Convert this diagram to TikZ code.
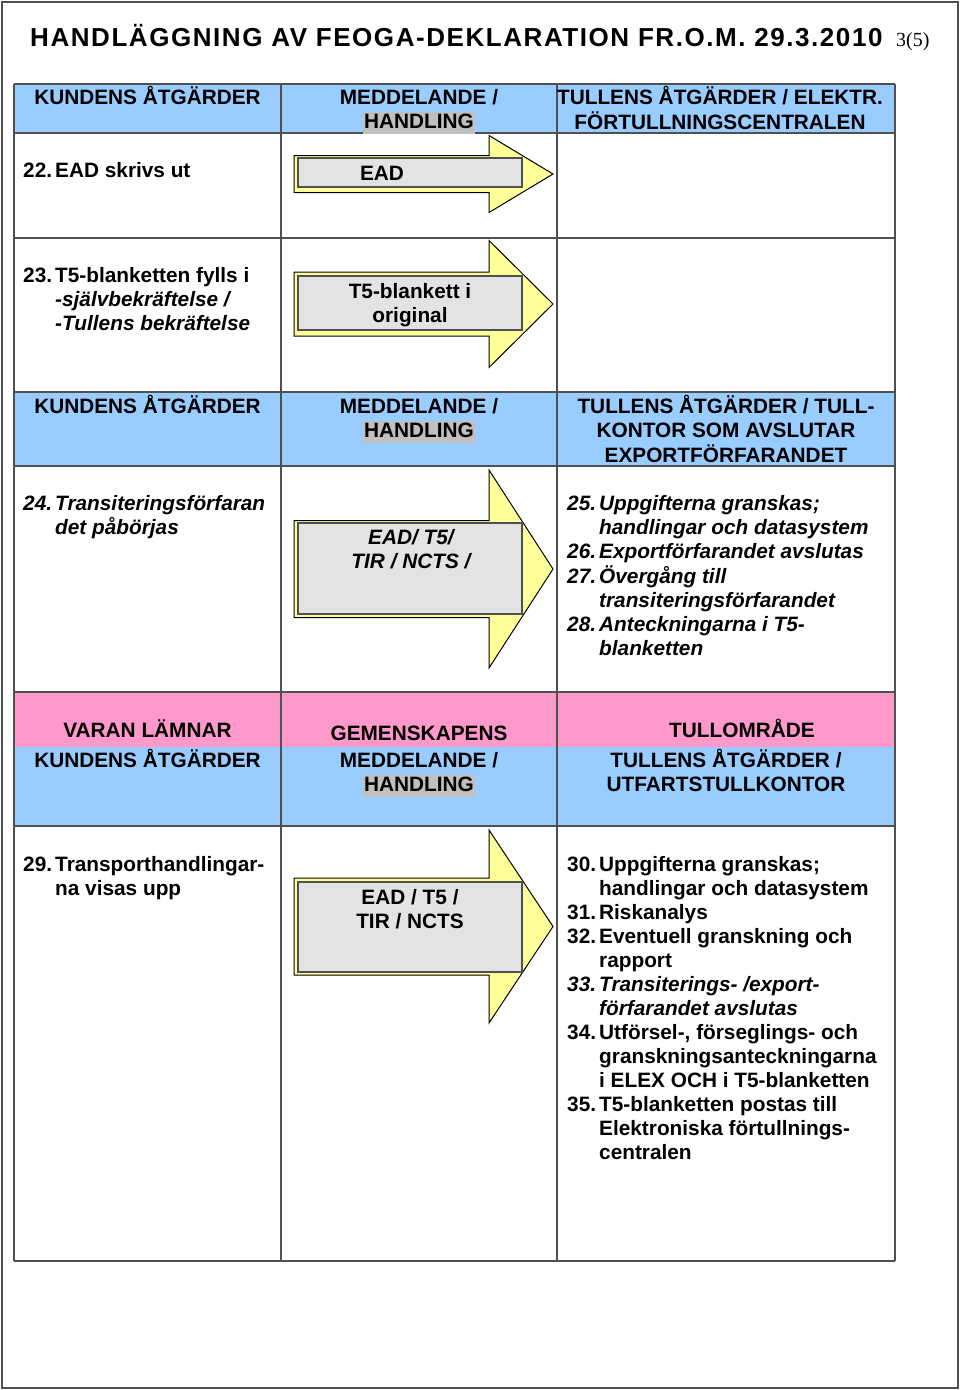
\documentclass[tikz,border=0pt]{standalone}
\usepackage{fontspec}
\setmainfont{Liberation Sans}
\newfontfamily\pagenofont{Liberation Serif}
\newfontfamily\titlefont[LetterSpace=6]{Liberation Sans}
\usetikzlibrary{positioning,calc}
\definecolor{hdrblue}{HTML}{99CCFF}
\definecolor{hdrpink}{HTML}{FF99CC}
\definecolor{arrowyel}{HTML}{FFFF99}
\definecolor{docgrey}{HTML}{E3E3E3}
\definecolor{hlgrey}{HTML}{C0C0C0}
\definecolor{gridline}{HTML}{505050}
\newcommand{\nr}[1]{\makebox[32pt][l]{#1}}
\newcommand{\greyhl}[1]{{\setlength{\fboxsep}{1pt}\colorbox{hlgrey}{\rule[-4pt]{0pt}{20pt}#1}}}
% centre, half shaft, half head
\newcommand{\fwdarrow}[3]{%
  \draw[arrowbody] (294,#1-#2) -- (489,#1-#2) -- (489,#1-#3) -- (553,#1)
    -- (489,#1+#3) -- (489,#1+#2) -- (294,#1+#2) -- cycle;}

\begin{document}
\begin{tikzpicture}[x=1pt,y=-1pt,
    every node/.style={inner sep=0pt,font=\fontsize{20.8}{24}\selectfont\bfseries},
    hdr/.style={anchor=base},
    cell/.style={anchor=base west},
    docbox/.style={draw=gridline,line width=1.5pt,fill=docgrey,minimum width=224pt},
    arrowbody/.style={draw=black,line width=1pt,fill=arrowyel,line join=miter},
    grid/.style={draw=gridline,line width=1.2pt}]
    \useasboundingbox (0,0) rectangle (960,1390);
    \draw[gridline,line width=1.2pt] (2,2) rectangle (958,1388);

    % title
    \node[cell,font=\titlefont\fontsize{26}{30}\selectfont\bfseries] (title) at (30,46.5)
      {HANDLÄGGNING AV FEOGA-DEKLARATION FR.O.M. 29.3.2010};
    \node[cell,font=\pagenofont\fontsize{20}{24}\selectfont] (pageno) at (896,46.5) {3(5)};

    % header bands
    \fill[hdrblue] (14,84) rectangle (895,133);
    \fill[hdrblue] (14,392) rectangle (895,466);
    \fill[hdrpink] (14,692) rectangle (895,747);
    \fill[hdrblue] (14,747) rectangle (895,826);

    % arrows
    \fwdarrow{174}{18.5}{38.5}
    \node[docbox,minimum height=29pt] (doc22) at (410,172.5) {};
    \fwdarrow{304}{32}{63.5}
    \node[docbox,minimum height=54pt] (doc23) at (410,303) {};
    \fwdarrow{569}{48.5}{99}
    \node[docbox,minimum height=91pt] (doc24) at (410,568.5) {};
    \fwdarrow{926.5}{48.5}{96.5}
    \node[docbox,minimum height=90pt] (doc29) at (410,927) {};

    % grid
    \foreach \y in {84,133,238,392,466,692,826,1261}
      \draw[grid] (14,\y) -- (895,\y);
    \foreach \x in {14,281,557,895}
      \draw[grid] (\x,84) -- (\x,1261);

    % header 1
    \node[hdr] (h1a) at (147.5,104.5) {KUNDENS ÅTGÄRDER};
    \node[hdr] (h1b) at (419,104.5) {\begin{tabular}[t]{@{}c@{}}MEDDELANDE /\\\greyhl{HANDLING}\end{tabular}};
    \node[hdr] (h1c) at (720,104.5) {\begin{tabular}[t]{@{}c@{}}TULLENS ÅTGÄRDER / ELEKTR.\\FÖRTULLNINGSCENTRALEN\end{tabular}};

    % steps 22-23
    \node[cell] (s22) at (23,177.5) {\nr{22.}EAD skrivs ut};
    \node[hdr] (t22) at (382,180.5) {EAD};
    \node[cell] (s23) at (23,282.5) {\begin{tabular}[t]{@{}l@{}}\nr{23.}T5-blanketten fylls i\\
      \nr{}\textit{-självbekräftelse /}\\\nr{}\textit{-Tullens bekräftelse}\end{tabular}};
    \node[hdr] (t23) at (410,298.5) {\begin{tabular}[t]{@{}c@{}}T5-blankett i\\original\end{tabular}};

    % header 2
    \node[hdr] (h2a) at (147.5,413.5) {KUNDENS ÅTGÄRDER};
    \node[hdr] (h2b) at (419,413.5) {\begin{tabular}[t]{@{}c@{}}MEDDELANDE /\\\greyhl{HANDLING}\end{tabular}};
    \node[hdr] (h2c) at (726,413.5) {\begin{tabular}[t]{@{}c@{}}TULLENS ÅTGÄRDER / TULL-\\KONTOR SOM AVSLUTAR\\EXPORTFÖRFARANDET\end{tabular}};

    % steps 24-28
    \node[cell] (s24) at (23,510.5) {\itshape\begin{tabular}[t]{@{}l@{}}\nr{24.}Transiteringsförfaran\\\nr{}det påbörjas\end{tabular}};
    \node[hdr] (t24) at (411,544.5) {\itshape\begin{tabular}[t]{@{}c@{}}EAD/ T5/\\TIR / NCTS /\end{tabular}};
    \node[cell] (s25) at (567,510.5) {\itshape\begin{tabular}[t]{@{}l@{}}\nr{25.}Uppgifterna granskas;\\
      \nr{}handlingar och datasystem\\\nr{26.}Exportförfarandet avslutas\\\nr{27.}Övergång till\\
      \nr{}transiteringsförfarandet\\\nr{28.}Anteckningarna i T5-\\\nr{}blanketten\end{tabular}};

    % header 3
    \node[hdr] (h3a) at (147.5,737.5) {VARAN LÄMNAR};
    \node[hdr] (h3b) at (419,740.5) {GEMENSKAPENS};
    \node[hdr] (h3c) at (742,737.5) {TULLOMRÅDE};
    \node[hdr] (h4a) at (147.5,767.5) {KUNDENS ÅTGÄRDER};
    \node[hdr] (h4b) at (419,767.5) {\begin{tabular}[t]{@{}c@{}}MEDDELANDE /\\\greyhl{HANDLING}\end{tabular}};
    \node[hdr] (h4c) at (726,767.5) {\begin{tabular}[t]{@{}c@{}}TULLENS ÅTGÄRDER /\\UTFARTSTULLKONTOR\end{tabular}};

    % steps 29-35
    \node[cell] (s29) at (23,871.5) {\begin{tabular}[t]{@{}l@{}}\nr{29.}Transporthandlingar-\\\nr{}na visas upp\end{tabular}};
    \node[hdr] (t29) at (410,904.5) {\begin{tabular}[t]{@{}c@{}}EAD / T5 /\\TIR / NCTS\end{tabular}};
    \node[cell] (s30) at (567,871.5) {\begin{tabular}[t]{@{}l@{}}\nr{30.}Uppgifterna granskas;\\
      \nr{}handlingar och datasystem\\\nr{31.}Riskanalys\\\nr{32.}Eventuell granskning och\\\nr{}rapport\\
      \textit{\nr{33.}Transiterings- /export-}\\\textit{\nr{}förfarandet avslutas}\\
      \nr{34.}Utförsel-, förseglings- och\\\nr{}granskningsanteckningarna\\\nr{}i ELEX OCH i T5-blanketten\\
      \nr{35.}T5-blanketten postas till\\\nr{}Elektroniska förtullnings-\\\nr{}centralen\end{tabular}};
  \end{tikzpicture}
\end{document}
